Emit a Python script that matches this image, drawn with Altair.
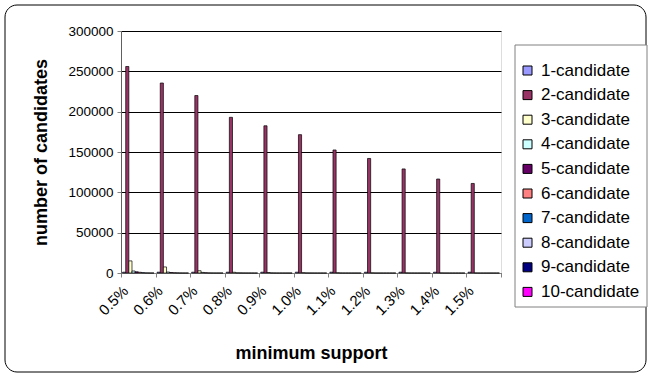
import altair as alt
import pandas as pd

# Minimum-support levels (x categories)
supports = ["0.5%", "0.6%", "0.7%", "0.8%", "0.9%", "1.0%", "1.1%", "1.2%", "1.3%", "1.4%", "1.5%"]

# Candidate-itemset series
series = ["1-candidate", "2-candidate", "3-candidate", "4-candidate", "5-candidate",
          "6-candidate", "7-candidate", "8-candidate", "9-candidate", "10-candidate"]

# Number of candidates per support level, one list per series
c1 = [1000, 1000, 1000, 1000, 1000, 1000, 1000, 1000, 1000, 1000, 1000]
c2 = [256000, 235500, 220000, 193000, 182500, 171500, 152500, 142000, 129000, 116500, 111000]
c3 = [15000, 7500, 2800, 900, 600, 400, 300, 200, 150, 100, 80]
c4 = [2500, 1200, 700, 200, 120, 80, 50, 30, 20, 10, 8]
c5 = [1500, 600, 300, 80, 40, 20, 10, 5, 2, 1, 0]
c6 = [900, 300, 120, 30, 10, 5, 2, 0, 0, 0, 0]
c7 = [400, 120, 40, 8, 2, 0, 0, 0, 0, 0, 0]
c8 = [150, 40, 10, 1, 0, 0, 0, 0, 0, 0, 0]
c9 = [40, 10, 2, 0, 0, 0, 0, 0, 0, 0, 0]
c10 = [5, 1, 0, 0, 0, 0, 0, 0, 0, 0, 0]

colors = ["#9999FF", "#993366", "#FFFFCC", "#CCFFFF", "#660066",
          "#FF8080", "#0066CC", "#CCCCFF", "#000080", "#FF00FF"]

rows = []
for name, vals in zip(series, [c1, c2, c3, c4, c5, c6, c7, c8, c9, c10]):
    for s, v in zip(supports, vals):
        rows.append({"support": s, "series": name, "candidates": v})
df = pd.DataFrame(rows)

FONT = "Liberation Sans"

bars = alt.Chart(df).mark_bar(stroke="black", strokeWidth=0.7).encode(
    x=alt.X("support:N", sort=supports,
            scale=alt.Scale(paddingInner=0, paddingOuter=0),
            axis=alt.Axis(title="minimum support", labelAngle=-45, tickBand="extent",
                          labelFont=FONT, labelFontSize=15, labelColor="black",
                          labelOffset=-18,
                          titleFont=FONT, titleFontSize=18, titleFontWeight="bold",
                          titleColor="black", titlePadding=27,
                          domainColor="#808080", tickColor="#808080", tickSize=4,
                          labelPadding=6, grid=False)),
    xOffset=alt.XOffset("series:N", sort=series,
                        scale=alt.Scale(paddingInner=0, paddingOuter=0.5)),
    y=alt.Y("candidates:Q",
            scale=alt.Scale(domain=[0, 300000], nice=False),
            axis=alt.Axis(title="number of candidates", values=list(range(0, 300001, 50000)),
                          format="d", labelFont=FONT, labelFontSize=13.5, labelColor="black",
                          titleFont=FONT, titleFontSize=18, titleFontWeight="bold",
                          titleColor="black", titlePadding=17,
                          domainColor="#606060", tickColor="#808080", tickSize=4,
                          labelPadding=4, gridColor="black", gridWidth=1)),
    color=alt.Color("series:N", sort=series,
                    scale=alt.Scale(domain=series, range=colors),
                    legend=alt.Legend(title=None, orient="none", legendX=398, legendY=31,
                                      symbolType="square", symbolSize=81,
                                      symbolStrokeColor="black", symbolStrokeWidth=1,
                                      labelFont=FONT, labelFontSize=17, labelColor="black",
                                      labelOffset=5, rowPadding=6.6, padding=0,
                                      labelLimit=200)),
)

# Rounded outer frame around the whole chart
frame = alt.Chart(pd.DataFrame({"a": [0]})).mark_rect(
    fill=None, stroke="black", strokeWidth=1, cornerRadius=12
).encode(x=alt.value(-116), x2=alt.value(525), y=alt.value(-26), y2=alt.value(341))

# Box behind the legend entries
legend_box = alt.Chart(pd.DataFrame({"a": [0]})).mark_rect(
    fill="white", stroke="#808080", strokeWidth=1
).encode(x=alt.value(394), x2=alt.value(526), y=alt.value(14), y2=alt.value(276))

chart = alt.layer(frame, legend_box, bars).properties(
    width=380, height=242,
    autosize=alt.AutoSizeParams(type="none"),
    padding={"left": 121, "top": 31, "right": 150, "bottom": 107},
).configure_view(stroke="#808080").configure(background="white")

chart.save("out.html", embed_options={"renderer": "svg", "actions": False})
